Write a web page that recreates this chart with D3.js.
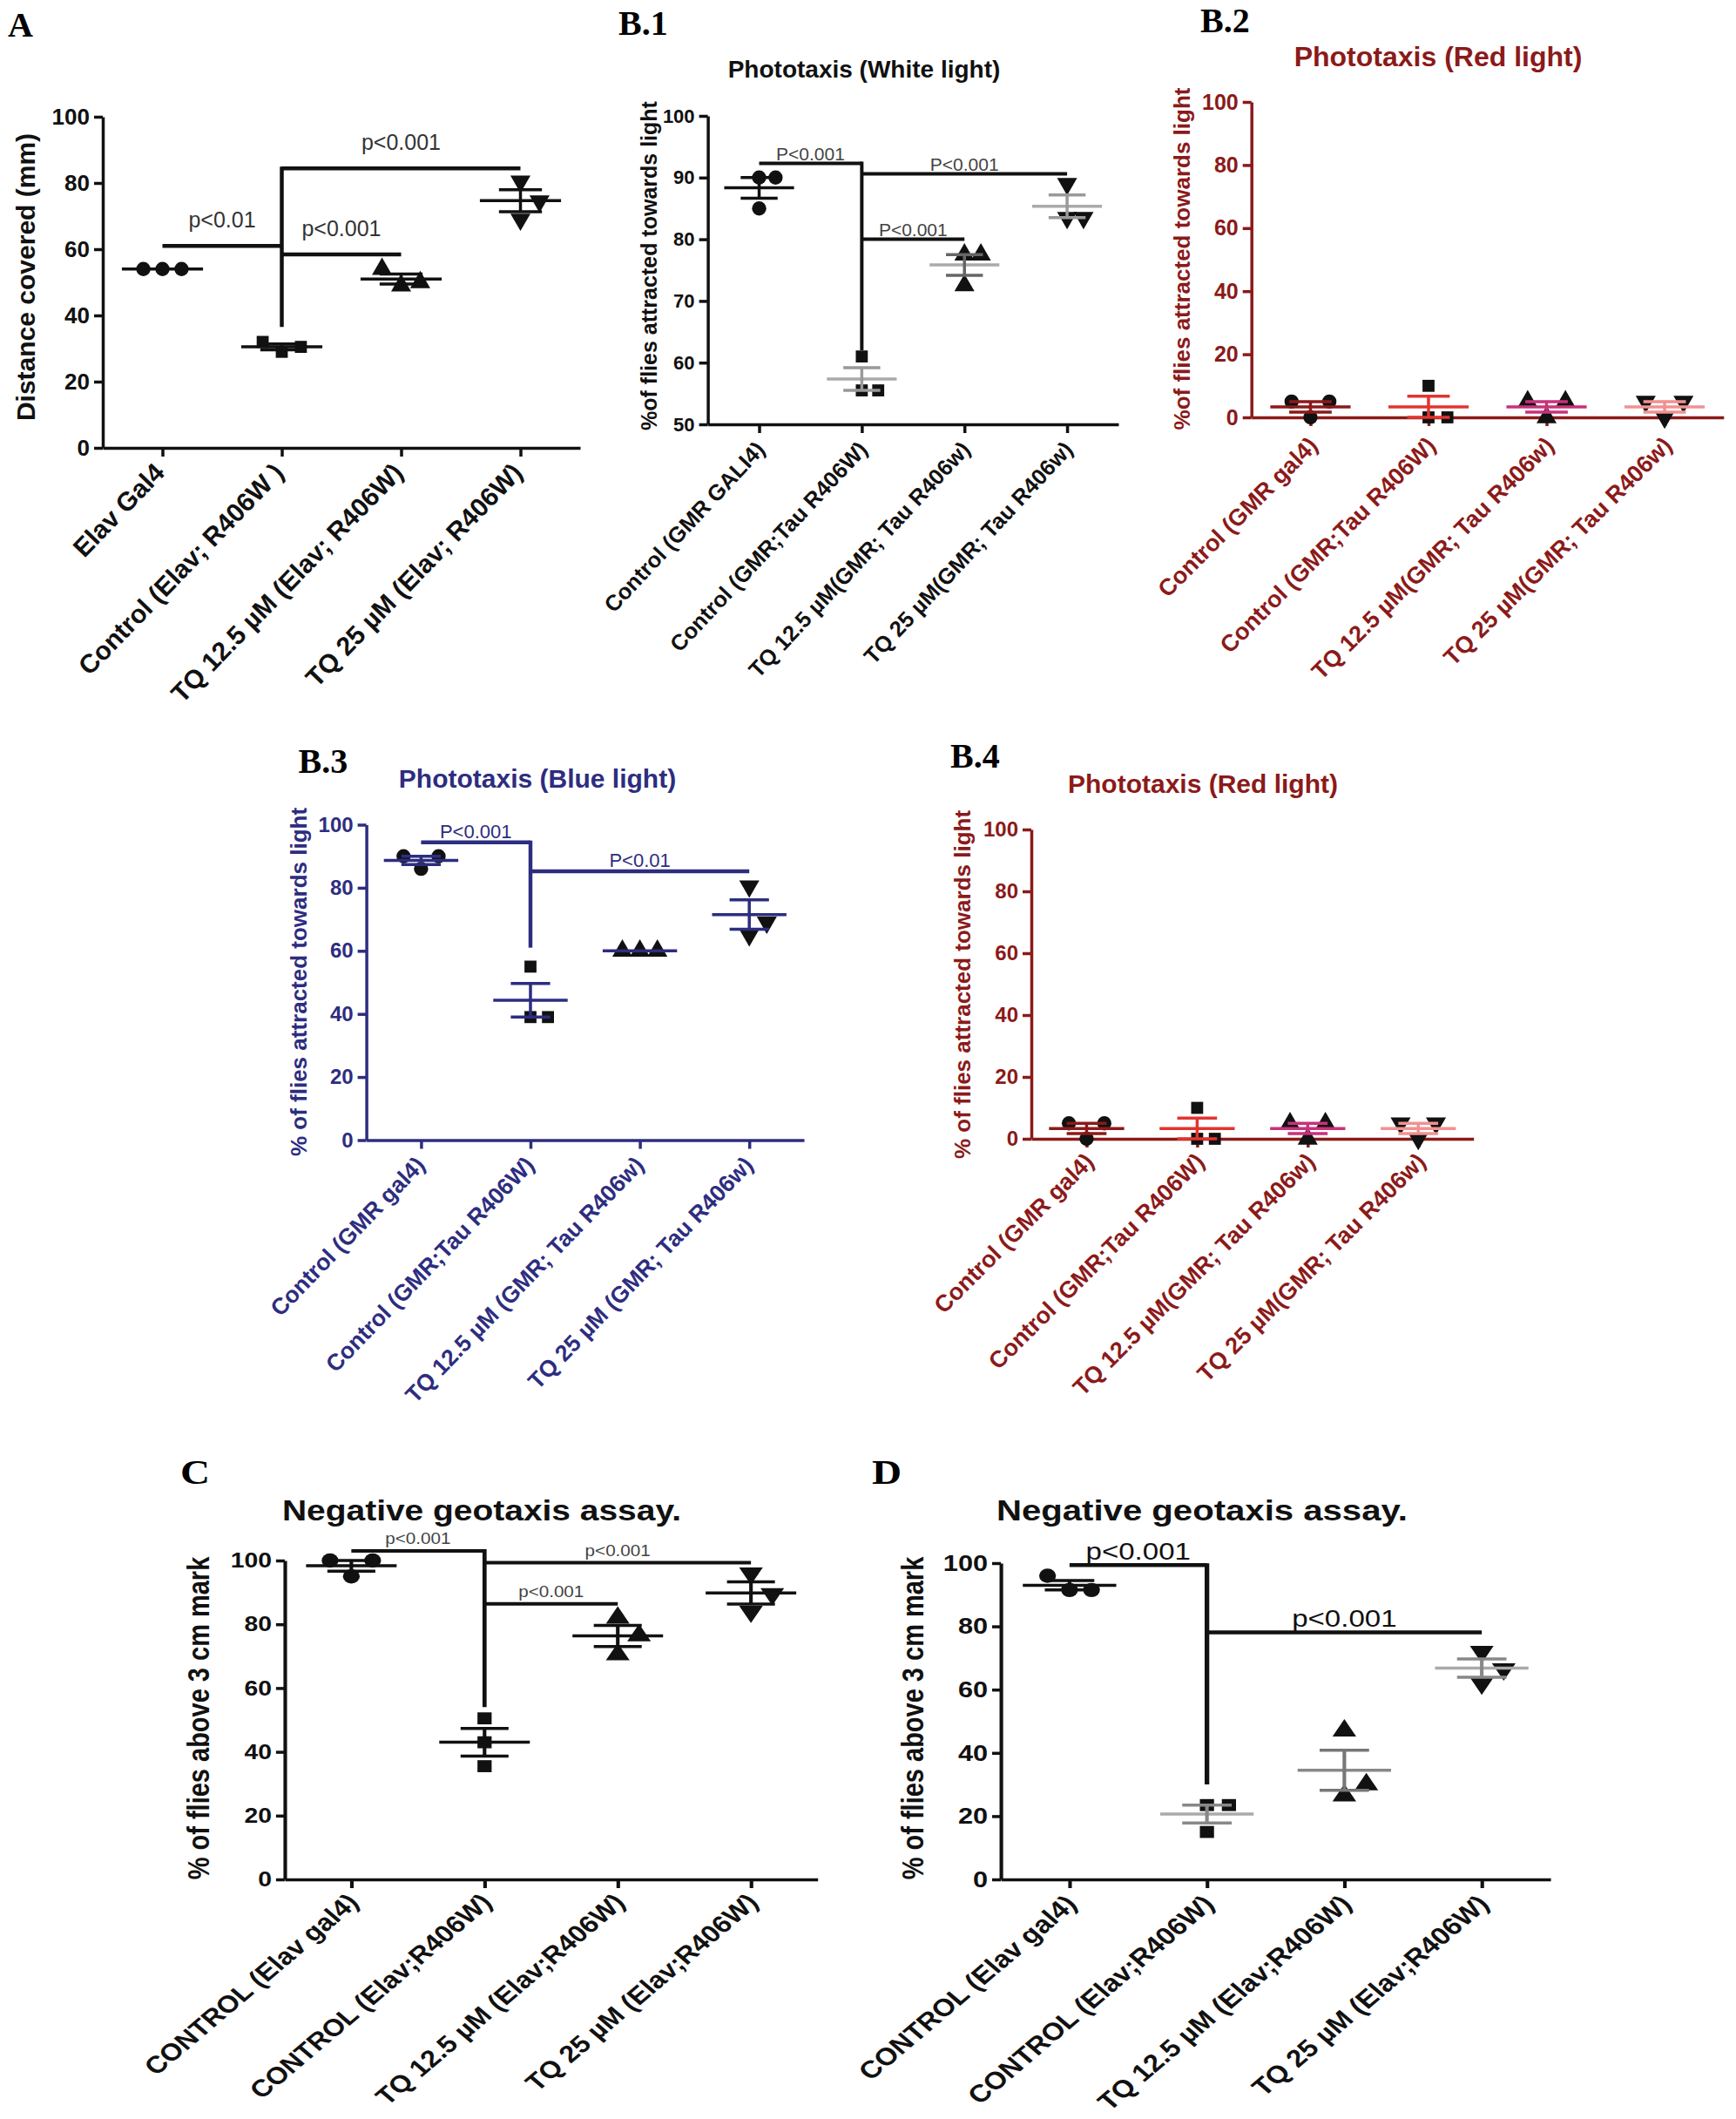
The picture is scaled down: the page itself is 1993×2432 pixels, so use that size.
<!DOCTYPE html>
<html>
<head>
<meta charset="utf-8">
<script src="https://cdn.jsdelivr.net/npm/d3@7/dist/d3.min.js"></script>
<style>
  body { margin: 0; background: #fff; }
  svg { display: block; }
  text { font-family: "Liberation Sans", Arial, sans-serif; }
</style>
</head>
<body>
<div id="chart"></div>
<script>
const W = 1993, H = 2432;

// ---------- data ----------
const catsA = ["Elav Gal4", "Control (Elav; R406W )", "TQ 12.5 µM (Elav; R406W)", "TQ 25 µM (Elav; R406W)"];
const distA = [[54, 54, 54], [29, 30.5, 32], [49, 50, 54], [80.5, 74.5, 69]];
const ticksA = [0, 20, 40, 60, 80, 100];
const sigA = [
  { a: 0, b: 1, y: 61, text: "p<0.01" },
  { a: 1, b: 2, y: 58.4, text: "p<0.001" },
  { a: 1, b: 3, y: 84.4, text: "p<0.001" }
];

const catsB1 = ["Control (GMR GALI4)", "Control (GMR;Tau R406W)", "TQ 12.5 µM(GMR; Tau R406w)", "TQ 25 µM(GMR; Tau R406w)"];
const whiteB1 = [[85, 90, 90], [61, 55.5, 55.5], [72.5, 77.5, 77.5], [89, 83.5, 83.5]];
const ticksB1 = [50, 60, 70, 80, 90, 100];
const sigB1 = [
  { a: 0, b: 1, y: 92.3, text: "P<0.001" },
  { a: 1, b: 2, y: 80, text: "P<0.001" },
  { a: 1, b: 3, y: 90.6, text: "P<0.001" }
];

const catsRed = ["Control (GMR gal4)", "Control (GMR;Tau R406W)", "TQ 12.5 µM(GMR; Tau R406w)", "TQ 25 µM(GMR; Tau R406w)"];
const redB2 = [[0, 5, 5], [10, 0, 0], [0, 5, 5], [0, 5, 5]];
const redB4 = [[0, 5, 5], [10, 0, 0], [0, 5, 5], [0, 5, 5]];
const ticksRed = [0, 20, 40, 60, 80, 100];

const catsB3 = ["Control (GMR gal4)", "Control (GMR;Tau R406W)", "TQ 12.5 µM (GMR; Tau R406w)", "TQ 25 µM (GMR; Tau R406w)"];
const blueB3 = [[86, 90, 90], [55, 39, 39], [60, 60, 60], [80.5, 65, 69]];
const ticksB3 = [0, 20, 40, 60, 80, 100];
const sigB3 = [
  { a: 0, b: 1, y: 94.4, text: "P<0.001" },
  { a: 1, b: 3, y: 85.2, text: "P<0.01" }
];

const catsCD = ["CONTROL (Elav gal4)", "CONTROL (Elav;R406W)", "TQ 12.5 µM (Elav;R406W)", "TQ 25 µM (Elav;R406W)"];
const geoC = [[95, 100, 100], [50.5, 43, 35.5], [82, 76.5, 70.5], [96, 89.5, 84]];
const geoD = [[91.5, 91.5, 96], [15, 23.5, 23.5], [47, 26.5, 30], [72, 66.5, 62]];
const ticksCD = [0, 20, 40, 60, 80, 100];
const sigC = [
  { a: 0, b: 1, y: 103, text: "p<0.001" },
  { a: 1, b: 2, y: 86.4, text: "p<0.001" },
  { a: 1, b: 3, y: 99.3, text: "p<0.001" }
];
const sigD = [
  { a: 0, b: 1, y: 99.4, text: "p<0.001" },
  { a: 1, b: 3, y: 78.1, text: "p<0.001" }
];

// ---------- layout (screen px) ----------
const RED = "#8b1a1a", NAVY = "#2d2d80", INK = "#111";
const allInk = [INK, INK, INK, INK];
const redSet = [RED, "#e3342f", "#c8317a", "#f29191"];
const panels = [
  { letter: "A", lx: 9, ly: 42, cats: catsA, vals: distA, ticks: ticksA, sx: 1,
    x0: 118, x1: 666, yTop: 134, yBot: 514, color: INK,
    meanColors: allInk, semColors: allInk,
    yLab: "Distance covered (mm)", yx: 29, yy: 318, yLabSize: 30,
    tickSize: 26, catSize: 30, catDx: 4, catDy: 30, catRot: -46,
    sig: sigA, hub: 1, stem: 36.5, pSize: 25, pGap: 21, pColor: "#333", sigW: 4.5 },
  { letter: "B.1", lx: 710, ly: 40, cats: catsB1, vals: whiteB1, ticks: ticksB1, sx: 1,
    x0: 812.6, x1: 1284, yTop: 133, yBot: 487, color: INK,
    meanColors: [INK, "#aaa", "#aaa", "#aaa"], semColors: [INK, "#999", "#666", "#999"],
    title: "Phototaxis (White light)", tx: 992, ty: 89, titleSize: 28,
    yLab: "%of flies attracted towards light", yx: 745, yy: 305, yLabSize: 25,
    tickSize: 22, catSize: 25.5, catDx: 8, catDy: 30, catRot: -47,
    sig: sigB1, hub: 1, stem: 62, pSize: 21, pGap: 4, pColor: "#444", sigW: 4 },
  { letter: "B.2", lx: 1378, ly: 37, cats: catsRed, vals: redB2, ticks: ticksRed, sx: 1,
    x0: 1436.7, x1: 1978.8, yTop: 117, yBot: 479, color: RED,
    meanColors: redSet, semColors: redSet,
    title: "Phototaxis (Red light)", tx: 1651, ty: 76, titleSize: 32,
    yLab: "%of flies attracted towards light", yx: 1356.5, yy: 297, yLabSize: 26,
    tickSize: 25, catSize: 27, catDx: 10, catDy: 34, catRot: -45 },
  { letter: "B.3", lx: 342.5, ly: 887, cats: catsB3, vals: blueB3, ticks: ticksB3, sx: 1,
    x0: 420.6, x1: 923, yTop: 946.5, yBot: 1308.5, color: NAVY,
    meanColors: [NAVY, NAVY, NAVY, NAVY], semColors: [NAVY, NAVY, NAVY, NAVY],
    title: "Phototaxis (Blue light)", tx: 617, ty: 904, titleSize: 30,
    yLab: "% of flies attracted towards light", yx: 342.5, yy: 1127, yLabSize: 26,
    tickSize: 24, catSize: 26.5, catDx: 6, catDy: 30, catRot: -46,
    sig: sigB3, hub: 1, stem: 61, pSize: 22, pGap: 5, pColor: NAVY, sigW: 4.5 },
  { letter: "B.4", lx: 1091, ly: 881, cats: catsRed, vals: redB4, ticks: ticksRed, sx: 1,
    x0: 1184, x1: 1691.7, yTop: 952, yBot: 1307, color: RED,
    meanColors: redSet, semColors: redSet,
    title: "Phototaxis (Red light)", tx: 1381, ty: 910, titleSize: 30,
    yLab: "% of flies attracted towards light", yx: 1104.6, yy: 1130, yLabSize: 26,
    tickSize: 24, catSize: 27, catDx: 10, catDy: 28, catRot: -45 },
  { letter: "C", lx: 207, ly: 1703, cats: catsCD, vals: geoC, ticks: ticksCD, sx: 1.18,
    x0: 326.9, x1: 938.6, yTop: 1791, yBot: 2157, color: INK,
    meanColors: allInk, semColors: allInk,
    title: "Negative geotaxis assay.", tx: 553, ty: 1745, titleSize: 33,
    yLab: "% of flies above 3 cm mark", yx: 228.5, yy: 1972, yLabSize: 29,
    tickSize: 24, catSize: 27.5, catDx: 10, catDy: 28, catRot: -45,
    sig: sigC, hub: 1, stem: 54, pSize: 17.5, pGap: 8, pColor: "#444", sigW: 4 },
  { letter: "D", lx: 1001, ly: 1703, cats: catsCD, vals: geoD, ticks: ticksCD, sx: 1.18,
    x0: 1149, x1: 1780, yTop: 1794, yBot: 2157, color: INK,
    meanColors: [INK, "#aaa", "#888", "#aaa"], semColors: [INK, "#888", "#777", "#888"],
    title: "Negative geotaxis assay.", tx: 1380, ty: 1745, titleSize: 34,
    yLab: "% of flies above 3 cm mark", yx: 1048, yy: 1972, yLabSize: 29,
    tickSize: 26, catSize: 28, catDx: 10, catDy: 30, catRot: -45,
    sig: sigD, hub: 1, stem: 30, pSize: 28, pGap: 6, pColor: INK, sigW: 4.5 }
];

// ---------- drawing ----------
const svg = d3.select("#chart").append("svg")
  .attr("width", W).attr("height", H)
  .style("background", "#fff");

const shapes = [d3.symbolCircle, d3.symbolSquare, d3.symbolTriangle, d3.symbolTriangle];
const shapeSize = [210, 190, 230, 230];

// spread points that would overlap: slot 0, then +1, then -1
function spread(vals, y, gap) {
  const placed = [];
  return vals.map(v => {
    const py = y(v);
    for (const s of [0, 1, -1, 2, -2]) {
      if (!placed.some(q => q.s === s && Math.abs(q.py - py) < gap)) {
        placed.push({ s, py });
        return { v, s };
      }
    }
    return { v, s: 0 };
  });
}

function hline(g, xa, xb, yv, col, w) {
  g.append("line").attr("x1", xa).attr("x2", xb).attr("y1", yv).attr("y2", yv)
    .attr("stroke", col).attr("stroke-width", w);
}

function drawPanel(p) {
  // some panels of the source figure are stretched sideways
  const g = svg.append("g").attr("transform", `scale(${p.sx},1)`);
  const X = v => v / p.sx;
  const x = d3.scalePoint().domain(p.cats).range([X(p.x0), X(p.x1)]).padding(0.5);
  const y = d3.scaleLinear().domain([p.ticks[0], p.ticks[p.ticks.length - 1]]).range([p.yBot, p.yTop]);
  const step = x.step();

  // y axis
  const ya = g.append("g").attr("transform", `translate(${X(p.x0)},0)`)
    .call(d3.axisLeft(y).tickValues(p.ticks).tickSize(X(10)).tickSizeOuter(0).tickPadding(X(5)));
  ya.select(".domain").attr("stroke", p.color).attr("stroke-width", 3.5);
  ya.selectAll(".tick line").attr("stroke", p.color).attr("stroke-width", 3.5);
  ya.selectAll(".tick text")
    .attr("fill", p.color)
    .style("font-size", p.tickSize + "px")
    .style("font-weight", "bold")
    .style("font-family", '"Liberation Sans", Arial, sans-serif');

  // x axis
  const xa = g.append("g").attr("transform", `translate(0,${p.yBot})`)
    .call(d3.axisBottom(x).tickSize(10).tickSizeOuter(0).tickFormat(""));
  xa.select(".domain").attr("stroke", p.color).attr("stroke-width", 3.5);
  xa.selectAll(".tick line").attr("stroke", p.color).attr("stroke-width", 3.5);

  // rotated category labels
  g.selectAll(".cat").data(p.cats).join("text")
    .attr("class", "cat")
    .attr("transform", c => `translate(${x(c) + X(p.catDx)},${p.yBot + p.catDy}) rotate(${p.catRot})`)
    .attr("text-anchor", "end")
    .attr("fill", p.color)
    .style("font-size", p.catSize + "px")
    .style("font-weight", "bold")
    .text(c => c);

  // significance brackets
  if (p.sig) {
    const hx = x(p.cats[p.hub]);
    const top = d3.max(p.sig, s => s.y);
    g.append("line").attr("x1", hx).attr("x2", hx)
      .attr("y1", y(p.stem)).attr("y2", y(top) - 2)
      .attr("stroke", p.color).attr("stroke-width", p.sigW);
    p.sig.forEach(s => {
      const xa0 = x(p.cats[s.a]), xb0 = x(p.cats[s.b]);
      hline(g, xa0, xb0, y(s.y), p.color, p.sigW);
      g.append("text")
        .attr("x", (xa0 + xb0) / 2).attr("y", y(s.y) - p.pGap)
        .attr("text-anchor", "middle")
        .attr("fill", p.pColor)
        .style("font-size", p.pSize + "px")
        .text(s.text);
    });
  }

  // points, mean and SEM
  p.vals.forEach((vals, i) => {
    const cx = x(p.cats[i]);
    const pts = spread(vals, y, 24);
    g.selectAll(null).data(pts).join("path")
      .attr("d", d3.symbol().type(shapes[i]).size(shapeSize[i]))
      .attr("transform", d => `translate(${cx + d.s * 0.16 * step},${y(d.v)})` + (i === 3 ? " rotate(180)" : ""))
      .attr("fill", INK);

    const m = d3.mean(vals);
    const se = d3.deviation(vals) / Math.sqrt(vals.length);
    hline(g, cx - 0.34 * step, cx + 0.34 * step, y(m), p.meanColors[i], 3.5);
    if (se > 0) {
      const sc = p.semColors[i];
      hline(g, cx - 0.18 * step, cx + 0.18 * step, y(m + se), sc, 3.5);
      hline(g, cx - 0.18 * step, cx + 0.18 * step, y(m - se), sc, 3.5);
      g.append("line").attr("x1", cx).attr("x2", cx)
        .attr("y1", y(m - se)).attr("y2", y(m + se))
        .attr("stroke", sc).attr("stroke-width", 3.5);
    }
  });

  // y label
  g.append("text")
    .attr("transform", `translate(${X(p.yx)},${p.yy}) rotate(-90)`)
    .attr("text-anchor", "middle")
    .attr("dy", "0.35em")
    .attr("fill", p.color)
    .style("font-size", p.yLabSize + "px")
    .style("font-weight", "bold")
    .text(p.yLab);

  // title
  if (p.title) {
    g.append("text")
      .attr("x", X(p.tx)).attr("y", p.ty)
      .attr("text-anchor", "middle")
      .attr("fill", p.color)
      .style("font-size", p.titleSize + "px")
      .style("font-weight", "bold")
      .text(p.title);
  }

  // panel letter
  g.append("text")
    .attr("x", X(p.lx)).attr("y", p.ly)
    .attr("fill", "#000")
    .style("font-family", '"Liberation Serif", "Times New Roman", serif')
    .style("font-size", "40px")
    .style("font-weight", "bold")
    .text(p.letter);
}

panels.forEach(drawPanel);
</script>
</body>
</html>
